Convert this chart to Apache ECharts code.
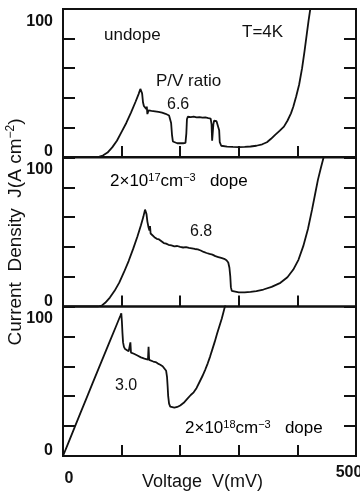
<!DOCTYPE html>
<html>
<head>
<meta charset="utf-8">
<script src="https://cdn.jsdelivr.net/npm/echarts@6/dist/echarts.min.js"></script>
<style>
html,body{margin:0;padding:0;background:#fff;}
#main{width:360px;height:497px;}
</style>
</head>
<body>
<div id="main"></div>
<script>
// ---- data (Voltage mV, Current density A/cm^2) ----
const voltageTicks = [0, 100, 200, 300, 400, 500];
const currentTicks = [0, 20, 40, 60, 80, 100];
const voltageLabels = ['0', '500'];
const currentLabels = ['0', '100'];

const undope = [
[0,0],[58,0],[62,0.3],[68,1],[76,3],[84,6.5],[92,11],[100,17],[108,23],[116,30],[124,37.5],[129,42.5],[132,46],[133.5,47],[135,43],[136.5,37],[138,34.5],[140,33.5],[142,32.5],[143,34],[144,29],[145,28],[146,31.5],[148,31],[151,31.2],[154,30.6],[157,30.9],[160,30.3],[163,30.5],[166,29.8],[169,30],[172,29.4],[175,29.2],[178,28.6],[181,28],[183,27],[184.5,23],[186,15],[187.5,10.5],[190,9.5],[195,9.3],[200,9.4],[205,9.3],[209,9.5],[210.5,16],[211.5,25.5],[213,27.2],[218,27],[223,27.3],[228,26.8],[233,27],[238,26.6],[243,26.7],[248,26.3],[252,26],[253.5,22],[254.5,11],[255.8,11],[256.6,22],[257.8,24.5],[262,24.2],[265,23.6],[266.5,18],[267.5,10],[270,7.6],[280,7],[290,6.8],[300,6.7],[310,6.8],[320,7.1],[330,7.6],[340,8.6],[348,10],[355,12.3],[362,15],[370,17.8],[377,20.5],[383,24.5],[389,29.5],[393,34],[398,41],[403,49],[408,60],[412,71],[416,83],[419,92],[422,100],[425,108]
];

const dope17 = [
[0,0],[60,0],[66,0.6],[72,2.5],[80,6],[88,10.5],[96,16],[104,23],[112,30.5],[120,39],[127,47],[133,54.5],[137,60],[140,65],[141,65.5],[142.5,62],[144,57],[146,53],[147.5,51],[148.5,54],[149.5,49],[152,47.8],[156,46.5],[160,45.4],[164,45],[168,43.8],[172,42.6],[176,42.2],[180,41.4],[185,41],[190,40.4],[195,40.6],[200,40],[205,39.6],[210,39.8],[215,39.3],[218,40.5],[220,39],[225,38.6],[230,38.3],[235,37.6],[240,36.6],[245,35.9],[250,35.3],[255,34.8],[260,33.8],[265,33.2],[270,32.6],[275,32],[279,31],[282,29.5],[284,26],[285.5,20],[286.5,13],[288,10.5],[291,9.6],[300,9.5],[310,9.5],[320,9.8],[330,10.3],[342,11.4],[356,13.2],[371,15.9],[383,19.6],[393,24.8],[402,31.5],[410,40.5],[418,52],[425,65],[430,75],[435,85],[440,93],[445,100.5],[448,106]
];

const dope18 = [
[0,0],[10,9.6],[20,19.3],[30,29],[40,38.6],[50,48.2],[60,57.8],[70,67.3],[80,76.8],[90,86.3],[98,94],[99.5,95.5],[100.5,90],[101.5,82],[102.5,76],[104,73],[106,71.5],[109,70.6],[112,70],[114,69.6],[115,76],[116,69.2],[118,69.4],[121,68.4],[124,68],[127,67.2],[130,66.5],[133,66],[136,65.6],[139,65.2],[142,64.8],[145,64.5],[146,73],[147,64.3],[150,63.8],[154,63.2],[158,62.8],[162,61.8],[166,61],[170,60],[173,58.8],[176,57],[177.5,53],[178.5,47],[179.5,40],[181,35],[183,33],[186,32.2],[190,32.3],[195,32.8],[200,33.8],[206,35.6],[212,38.2],[218,40.8],[223,42.6],[228,45.5],[233,49.5],[238,53.5],[243,58],[247,62],[251,66.5],[255,71.5],[259,76.5],[263,82],[267,87],[271,92],[274,96.5],[277,101],[280,106]
];

// ---- chart ----
const FONT = 'Liberation Sans, Arial, sans-serif';
const INK = '#111';
const chart = echarts.init(document.getElementById('main'), null, {renderer: 'canvas'});

const grids = [
  {left: 63, right: 4, top: 9, height: 148},
  {left: 63, right: 4, top: 157.5, height: 149},
  {left: 63, right: 4, top: 306.5, height: 149.5}
].map(g => Object.assign({show: true, borderColor: INK, borderWidth: 2, backgroundColor: 'transparent',
  containLabel: false, outerBoundsMode: 'none'}, g));

const vStep = voltageTicks[1] - voltageTicks[0];
const jStep = currentTicks[1] - currentTicks[0];
const tick = (len) => ({show: true, inside: true, length: len, lineStyle: {color: INK, width: 2}});

const xAxes = [0, 1, 2].map(i => ({
  type: 'value', gridIndex: i,
  min: voltageTicks[0], max: voltageTicks[voltageTicks.length - 1], interval: vStep,
  axisLine: {show: false}, splitLine: {show: false},
  axisTick: tick(11),
  axisLabel: i === 2 ? {
    show: true, margin: 9, color: INK, fontFamily: FONT, fontSize: 16, fontWeight: 'bold',
    formatter: v => v === voltageTicks[0] ? '{a|' + voltageLabels[0] + '}' :
                  (v === voltageTicks[voltageTicks.length - 1] ? '{b|' + voltageLabels[1] + '}' : ''),
    rich: {
      a: {fontFamily: FONT, fontSize: 16, fontWeight: 'bold', color: INK, padding: [6, 0, 0, 12]},
      b: {fontFamily: FONT, fontSize: 16, fontWeight: 'bold', color: INK, padding: [0, 14, 0, 0]}
    }
  } : {show: false},
  name: i === 2 ? 'Voltage  V(mV)' : '',
  nameLocation: 'middle', nameGap: 17, nameMoveOverlap: false,
  nameTextStyle: {fontFamily: FONT, fontSize: 18, color: INK, padding: [0, 14, 0, 0]}
}));

const yAxes = [];
[0, 1, 2].forEach(i => {
  yAxes.push({
    type: 'value', gridIndex: i, position: 'left',
    min: currentTicks[0], max: currentTicks[currentTicks.length - 1], interval: jStep,
    axisLine: {show: false}, splitLine: {show: false},
    axisTick: tick(12),
    axisLabel: {
      show: true, margin: 10, color: INK, fontFamily: FONT, fontSize: 16, fontWeight: 'bold',
      formatter: v => v === currentTicks[0] ? '{z|' + currentLabels[0] + '}' :
                    (v === currentTicks[currentTicks.length - 1] ? '{h|' + currentLabels[1] + '}' : ''),
      rich: {
        z: {fontFamily: FONT, fontSize: 16, fontWeight: 'bold', color: INK, padding: [0, 0, 10, 0]},
        h: {fontFamily: FONT, fontSize: 16, fontWeight: 'bold', color: INK, padding: [25, 0, 0, 0]}
      }
    },
    name: i === 1 ? 'Current  Density  J(A cm{s|−2})' : '',
    nameLocation: 'middle', nameGap: 37, nameRotate: 90, nameMoveOverlap: false,
    nameTextStyle: {fontFamily: FONT, fontSize: 19, color: INK,
      rich: {s: {fontFamily: FONT, fontSize: 12, color: INK, verticalAlign: 'top', padding: [0, 0, 9, 0]}}}
  });
  yAxes.push({
    type: 'value', gridIndex: i, position: 'right',
    min: currentTicks[0], max: currentTicks[currentTicks.length - 1], interval: jStep,
    axisLine: {show: false}, splitLine: {show: false},
    axisTick: tick(12), axisLabel: {show: false}
  });
});

const lineSeries = (data, i) => ({
  type: 'line', xAxisIndex: i, yAxisIndex: i * 2, data: data,
  showSymbol: false, symbol: 'none', smooth: false, clip: true,
  lineStyle: {color: INK, width: 1.8}, animation: false
});

const supRich = {
  n: {fontFamily: FONT, fontSize: 17, color: INK},
  s: {fontFamily: FONT, fontSize: 11, color: INK, verticalAlign: 'top', padding: [0, 0, 8, 0]}
};

chart.setOption({
  animation: false,
  backgroundColor: '#fff',
  grid: grids,
  xAxis: xAxes,
  yAxis: yAxes,
  series: [lineSeries(undope, 0), lineSeries(dope17, 1), lineSeries(dope18, 2)],
  graphic: [
    {type: 'text', left: 104, top: 27, style: {text: 'undope', fill: INK, font: '17px ' + FONT}},
    {type: 'text', left: 242, top: 24, style: {text: 'T=4K', fill: INK, font: '17px ' + FONT}},
    {type: 'text', left: 156, top: 73, style: {text: 'P/V ratio', fill: INK, font: '17px ' + FONT}},
    {type: 'text', left: 167, top: 97, style: {text: '6.6', fill: INK, font: '16px ' + FONT}},
    {type: 'text', left: 110, top: 172, style: {rich: supRich, text: '{n|2×10}{s|17}{n|cm}{s|−3}{n|   dope}'}},
    {type: 'text', left: 190, top: 224, style: {text: '6.8', fill: INK, font: '16px ' + FONT}},
    {type: 'text', left: 115, top: 378, style: {text: '3.0', fill: INK, font: '16px ' + FONT}},
    {type: 'text', left: 185, top: 419, style: {rich: supRich, text: '{n|2×10}{s|18}{n|cm}{s|−3}{n|   dope}'}}
  ]
});
</script>
</body>
</html>
